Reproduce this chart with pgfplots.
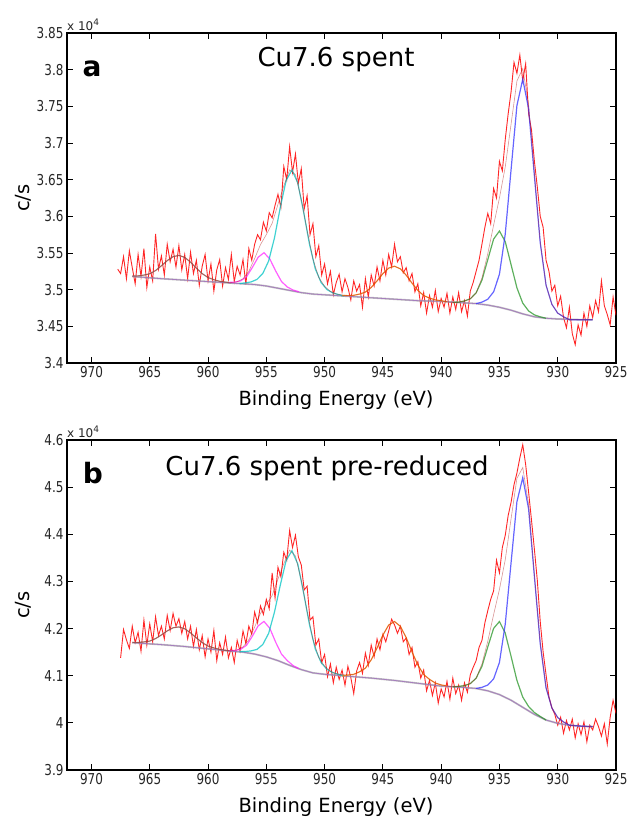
\documentclass[border=0pt]{standalone}
\usepackage{pgfplots}
\pgfplotsset{compat=1.18}
\usepackage{fontspec}
\setmainfont{DejaVu Sans}
\newfontfamily\tickfont[FakeStretch=0.8]{DejaVu Sans}
\definecolor{cred}{RGB}{255,0,0}
\definecolor{cblue}{RGB}{50,50,255}
\definecolor{cgreen}{RGB}{40,150,40}
\definecolor{corange}{RGB}{255,125,0}
\definecolor{ccyan}{RGB}{0,195,195}
\definecolor{cmag}{RGB}{255,40,255}
\definecolor{cbrown}{RGB}{140,105,95}
\definecolor{cgray}{RGB}{150,150,150}
\definecolor{cpurp}{RGB}{160,110,190}
\definecolor{cenv}{RGB}{170,20,20}
\pgfplotsset{
  xpsax/.style={
    scale only axis, width=549pt, height=330pt, anchor=south west,
    x dir=reverse, xmin=925, xmax=972.1,
    xtick={925,930,935,940,945,950,955,960,965,970},
    xticklabels={925,930,935,940,945,950,955,960,965,970},
    tick align=inside, major tick length=6pt,
    axis line style={line width=1.1pt},
    every tick/.style={black, line width=0.9pt},
    /pgf/number format/assume math mode=true,
    tick label style={font=\tickfont\fontsize{15}{15}\selectfont, text=black!85},
    clip=true,
  },
  datal/.style={cred, line width=0.9pt, opacity=0.85},
  comp/.style={line width=1.2pt, opacity=0.75},
}
\begin{document}
\begin{tikzpicture}
\useasboundingbox (0,0) rectangle (630pt,-821pt);
% ---------------- panel a ----------------
\begin{axis}[xpsax, at={(67pt,-363pt)}, ymin=3.4, ymax=3.85,
  ytick={3.4,3.45,3.5,3.55,3.6,3.65,3.7,3.75,3.8,3.85},
  yticklabels={3.4,3.45,3.5,3.55,3.6,3.65,3.7,3.75,3.8,3.85}]
\addplot[datal] coordinates {
(967.75,3.528)(967.5,3.522)(967.25,3.545)(967.0,3.515)(966.75,3.553)(966.5,3.530)(966.25,3.508)(966.0,3.548)
(965.75,3.518)(965.5,3.556)(965.25,3.503)(965.0,3.531)(964.75,3.512)(964.5,3.576)(964.25,3.528)(964.0,3.546)
(963.75,3.520)(963.5,3.562)(963.25,3.538)(963.0,3.555)(962.75,3.531)(962.5,3.560)(962.25,3.527)(962.0,3.548)
(961.75,3.515)(961.5,3.551)(961.25,3.522)(961.0,3.540)(960.75,3.506)(960.5,3.532)(960.25,3.548)(960.0,3.512)
(959.75,3.535)(959.5,3.498)(959.25,3.527)(959.0,3.541)(958.75,3.505)(958.5,3.530)(958.25,3.514)(958.0,3.548)
(957.75,3.511)(957.5,3.532)(957.25,3.520)(957.0,3.541)(956.75,3.507)(956.5,3.556)(956.25,3.540)(956.0,3.562)
(955.75,3.575)(955.5,3.568)(955.25,3.592)(955.0,3.580)(954.75,3.605)(954.5,3.598)(954.25,3.615)(954.0,3.630)
(953.75,3.612)(953.5,3.668)(953.25,3.650)(953.0,3.695)(952.75,3.660)(952.5,3.685)(952.25,3.645)(952.0,3.665)
(951.75,3.610)(951.5,3.628)(951.25,3.575)(951.0,3.590)(950.75,3.545)(950.5,3.560)(950.25,3.520)(950.0,3.535)
(949.75,3.508)(949.5,3.525)(949.25,3.493)(949.0,3.510)(948.75,3.521)(948.5,3.497)(948.25,3.515)(948.0,3.503)
(947.75,3.486)(947.5,3.512)(947.25,3.498)(947.0,3.507)(946.75,3.476)(946.5,3.515)(946.25,3.490)(946.0,3.520)
(945.75,3.505)(945.5,3.531)(945.25,3.512)(945.0,3.540)(944.75,3.520)(944.5,3.548)(944.25,3.531)(944.0,3.562)
(943.75,3.538)(943.5,3.545)(943.25,3.523)(943.0,3.530)(942.75,3.512)(942.5,3.522)(942.25,3.497)(942.0,3.508)
(941.75,3.478)(941.5,3.496)(941.25,3.468)(941.0,3.492)(940.75,3.476)(940.5,3.499)(940.25,3.470)(940.0,3.488)
(939.75,3.476)(939.5,3.495)(939.25,3.468)(939.0,3.490)(938.75,3.473)(938.5,3.496)(938.25,3.470)(938.0,3.485)
(937.75,3.464)(937.5,3.498)(937.25,3.510)(937.0,3.525)(936.75,3.540)(936.5,3.562)(936.25,3.585)(936.0,3.604)
(935.75,3.590)(935.5,3.638)(935.25,3.625)(935.0,3.675)(934.75,3.662)(934.5,3.705)(934.25,3.740)(934.0,3.770)
(933.75,3.810)(933.5,3.795)(933.25,3.820)(933.0,3.785)(932.75,3.808)(932.5,3.740)(932.25,3.718)(932.0,3.675)
(931.75,3.640)(931.5,3.600)(931.25,3.585)(931.0,3.540)(930.75,3.525)(930.5,3.498)(930.25,3.506)(930.0,3.478)
(929.75,3.491)(929.5,3.462)(929.25,3.448)(929.0,3.476)(928.75,3.440)(928.5,3.425)(928.25,3.452)(928.0,3.438)
(927.75,3.468)(927.5,3.450)(927.25,3.478)(927.0,3.462)(926.75,3.485)(926.5,3.470)(926.25,3.512)(926.0,3.478)
(925.75,3.466)(925.5,3.452)(925.25,3.490)(925.0,3.465)
};
% background
\addplot[comp, cgray, line width=1.8pt, opacity=0.6] coordinates {
(966.5,3.518)(964,3.515)(962,3.513)(960,3.511)(958,3.509)(957,3.508)(956,3.507)(955,3.505)(954,3.502)(953,3.499)
(952,3.496)(951,3.494)(950,3.493)(948,3.491)(946,3.489)(944,3.487)(942,3.485)(940,3.484)(938,3.482)(937,3.481)
(936,3.479)(935.5,3.4775)(935,3.476)(934.5,3.474)(934,3.472)(933.5,3.4695)(933,3.467)(932.5,3.465)(932,3.463)
(931.5,3.462)(931,3.461)(930,3.460)(928,3.459)(927,3.459)
};
\addplot[comp, cpurp, line width=0.8pt, opacity=0.8] coordinates {
(966.5,3.518)(964,3.515)(962,3.513)(960,3.511)(958,3.509)(957,3.508)(956,3.507)(955,3.505)(954,3.502)(953,3.499)
(952,3.496)(951,3.494)(950,3.493)(948,3.491)(946,3.489)(944,3.487)(942,3.485)(940,3.484)(938,3.482)(937,3.481)
(936,3.479)(935.5,3.4775)(935,3.476)(934.5,3.474)(934,3.472)(933.5,3.4695)(933,3.467)(932.5,3.465)(932,3.463)
(931.5,3.462)(931,3.461)(930,3.460)(928,3.459)(927,3.459)
};
% brown 962.5
\addplot[comp, cbrown] coordinates {
(966.5,3.5187)(966,3.5188)(965.5,3.5199)(965,3.5217)(964.5,3.5261)(964,3.5326)(963.5,3.5396)(963,3.5450)
(962.5,3.5468)(962,3.5440)(961.5,3.5375)(961,3.5294)(960.5,3.5219)(960,3.5165)(959.5,3.5136)(959,3.5114)
(958.5,3.5103)(958,3.5091)
};
% magenta 955.2
\addplot[comp, cmag] coordinates {
(958.2,3.5099)(957.7,3.5103)(957.2,3.5120)(956.7,3.5176)(956.2,3.5302)(955.7,3.5442)(955.2,3.5504)
(954.7,3.5419)(954.2,3.5256)(953.7,3.5112)(953.2,3.5036)(952.7,3.4995)(952.2,3.4971)
};
% cyan 952.8
\addplot[comp, ccyan] coordinates {
(957.3,3.5083)(956.8,3.5093)(956.3,3.5106)(955.8,3.5140)(955.3,3.5221)(954.8,3.5391)(954.3,3.5706)(953.8,3.6122)
(953.3,3.6489)(952.8,3.6634)(952.3,3.6454)(951.8,3.6060)(951.3,3.5623)(950.8,3.5285)(950.3,3.5098)(949.8,3.5002)
(949.3,3.4956)(948.8,3.4933)(948.3,3.4913)
};
% orange 944
\addplot[comp, corange] coordinates {
(948.5,3.492)(948,3.4919)(947.5,3.4923)(947,3.494)(946.5,3.4967)(946,3.503)(945.5,3.512)(945,3.5218)
(944.5,3.5294)(944,3.532)(943.5,3.5284)(943,3.5198)(942.5,3.5089)(942,3.499)(941.5,3.492)(941,3.4885)
(940.5,3.4861)(940,3.4849)(939.5,3.4835)
};
% green 935
\addplot[comp, cgreen] coordinates {
(939,3.4825)(938.5,3.483)(938,3.4846)(937.5,3.4875)(937,3.4956)(936.5,3.513)(936,3.541)(935.5,3.569)
(935,3.580)(934.5,3.5655)(934,3.534)(933.5,3.5025)(933,3.4816)(932.5,3.471)(932,3.4656)(931.5,3.463)(931,3.461)
};
% blue 933
\addplot[comp, cblue] coordinates {
(937,3.481)(936.5,3.483)(936,3.487)(935.5,3.497)(935,3.521)(934.5,3.576)(934,3.664)(933.5,3.751)(933,3.787)
(932.5,3.747)(932,3.655)(931.5,3.564)(931,3.506)(930.5,3.480)(930,3.468)(929.5,3.463)(929,3.459)(928,3.459)(927,3.459)
};
% envelope
\addplot[cenv, line width=0.6pt, opacity=0.45] coordinates {
(966.5,3.5187)(966,3.5188)(965.5,3.5199)(965,3.5217)(964.5,3.5261)(964,3.5326)(963.5,3.5396)(963,3.5450)
(962.5,3.5468)(962,3.5440)(961.5,3.5375)(961,3.5294)(960.5,3.5219)(960,3.5165)(959.5,3.5136)(959,3.5114)
(958.5,3.5103)(958,3.5098)(957.5,3.5108)(957,3.5149)(956.5,3.525)(956,3.5425)(955.5,3.5615)(955,3.5751)
(954.5,3.5904)(954,3.6163)(953.5,3.6416)(953,3.6634)(952.5,3.6568)(952,3.6233)(951.5,3.5808)(951,3.5419)
(950.5,3.5166)(950,3.5046)(949.5,3.4975)(949,3.4941)(948.5,3.4927)(948,3.4919)(947.5,3.4923)(947,3.494)
(946.5,3.4967)(946,3.503)(945.5,3.512)(945,3.5218)(944.5,3.5294)(944,3.532)(943.5,3.5284)(943,3.5198)
(942.5,3.5089)(942,3.499)(941.5,3.492)(941,3.4885)(940.5,3.4861)(940,3.4849)(939.5,3.4835)(939,3.4825)
(938.5,3.483)(938,3.4846)(937.5,3.4875)(937,3.4956)(936.5,3.516)(936,3.549)(935.5,3.588)(935,3.625)
(934.5,3.6675)(934,3.726)(933.5,3.7845)(933,3.8016)(932.5,3.753)(932,3.6576)(931.5,3.565)(931,3.506)
(930.5,3.480)(930,3.468)(929.5,3.463)(929,3.459)(928,3.459)(927,3.459)
};
\end{axis}
% ---------------- panel b ----------------
\begin{axis}[xpsax, at={(67pt,-770pt)}, ymin=3.9, ymax=4.6,
  ytick={3.9,4,4.1,4.2,4.3,4.4,4.5,4.6},
  yticklabels={3.9,4,4.1,4.2,4.3,4.4,4.5,4.6}]
\addplot[datal] coordinates {
(967.5,4.138)(967.25,4.198)(967.0,4.176)(966.75,4.158)(966.5,4.205)(966.25,4.170)(966.0,4.192)(965.75,4.152)
(965.5,4.218)(965.25,4.165)(965.0,4.210)(964.75,4.172)(964.5,4.225)(964.25,4.185)(964.0,4.205)(963.75,4.178)
(963.5,4.228)(963.25,4.196)(963.0,4.232)(962.75,4.205)(962.5,4.221)(962.25,4.190)(962.0,4.215)(961.75,4.178)
(961.5,4.205)(961.25,4.162)(961.0,4.198)(960.75,4.155)(960.5,4.185)(960.25,4.140)(960.0,4.178)(959.75,4.150)
(959.5,4.196)(959.25,4.132)(959.0,4.170)(958.75,4.145)(958.5,4.182)(958.25,4.138)(958.0,4.160)(957.75,4.128)
(957.5,4.175)(957.25,4.152)(957.0,4.195)(956.75,4.168)(956.5,4.205)(956.25,4.188)(956.0,4.235)(955.75,4.212)
(955.5,4.248)(955.25,4.230)(955.0,4.262)(954.75,4.242)(954.5,4.318)(954.25,4.265)(954.0,4.330)(953.75,4.310)
(953.5,4.362)(953.25,4.345)(953.0,4.408)(952.75,4.372)(952.5,4.398)(952.25,4.352)(952.0,4.335)(951.75,4.282)
(951.5,4.290)(951.25,4.218)(951.0,4.225)(950.75,4.165)(950.5,4.178)(950.25,4.128)(950.0,4.145)(949.75,4.098)
(949.5,4.125)(949.25,4.085)(949.0,4.118)(948.75,4.092)(948.5,4.112)(948.25,4.080)(948.0,4.120)(947.75,4.096)
(947.5,4.062)(947.25,4.110)(947.0,4.128)(946.75,4.105)(946.5,4.148)(946.25,4.122)(946.0,4.165)(945.75,4.140)
(945.5,4.178)(945.25,4.155)(945.0,4.188)(944.75,4.172)(944.5,4.195)(944.25,4.220)(944.0,4.208)(943.75,4.190)
(943.5,4.205)(943.25,4.172)(943.0,4.180)(942.75,4.145)(942.5,4.160)(942.25,4.118)(942.0,4.130)(941.75,4.095)
(941.5,4.112)(941.25,4.068)(941.0,4.090)(940.75,4.058)(940.5,4.085)(940.25,4.042)(940.0,4.072)(939.75,4.055)
(939.5,4.088)(939.25,4.050)(939.0,4.095)(938.75,4.062)(938.5,4.080)(938.25,4.048)(938.0,4.085)(937.75,4.065)
(937.5,4.102)(937.25,4.118)(937.0,4.132)(936.75,4.160)(936.5,4.175)(936.25,4.212)(936.0,4.238)(935.75,4.262)
(935.5,4.280)(935.25,4.345)(935.0,4.318)(934.75,4.372)(934.5,4.398)(934.25,4.440)(934.0,4.468)(933.75,4.505)
(933.5,4.530)(933.25,4.562)(933.0,4.590)(932.75,4.548)(932.5,4.490)(932.25,4.430)(932.0,4.368)(931.75,4.302)
(931.5,4.215)(931.25,4.150)(931.0,4.102)(930.75,4.055)(930.5,4.032)(930.25,4.018)(930.0,3.995)(929.75,4.012)
(929.5,3.978)(929.25,4.005)(929.0,3.985)(928.75,4.008)(928.5,3.968)(928.25,3.998)(928.0,3.975)(927.75,4.002)
(927.5,3.960)(927.25,3.995)(927.0,3.985)(926.75,4.008)(926.5,3.992)(926.25,3.972)(926.0,3.998)(925.75,3.955)
(925.5,4.012)(925.25,4.048)(925.0,4.020)
};
\addplot[comp, cgray, line width=1.8pt, opacity=0.6] coordinates {
(966.5,4.170)(964,4.166)(962,4.162)(960,4.157)(958,4.152)(957,4.150)(956,4.146)(955,4.140)(954,4.132)(953,4.122)
(952,4.113)(951,4.106)(950,4.103)(948,4.099)(946,4.095)(944,4.090)(942,4.084)(940,4.078)(938,4.075)(937,4.073)
(936,4.068)(935,4.060)(934,4.048)(933,4.033)(932,4.018)(931,4.006)(930,3.999)(929,3.995)(928,3.993)(927,3.992)
};
\addplot[comp, cpurp, line width=0.8pt, opacity=0.8] coordinates {
(966.5,4.170)(964,4.166)(962,4.162)(960,4.157)(958,4.152)(957,4.150)(956,4.146)(955,4.140)(954,4.132)(953,4.122)
(952,4.113)(951,4.106)(950,4.103)(948,4.099)(946,4.095)(944,4.090)(942,4.084)(940,4.078)(938,4.075)(937,4.073)
(936,4.068)(935,4.060)(934,4.048)(933,4.033)(932,4.018)(931,4.006)(930,3.999)(929,3.995)(928,3.993)(927,3.992)
};
\addplot[comp, cbrown] coordinates {
(966.5,4.1708)(966,4.1707)(965.5,4.1717)(965,4.1735)(964.5,4.1788)(964,4.1865)(963.5,4.1951)(963,4.2017)
(962.5,4.2035)(962,4.1996)(961.5,4.1909)(961,4.1802)(960.5,4.1703)(960,4.1629)(959.5,4.159)(959,4.1558)
(958.5,4.1539)(958,4.152)
};
\addplot[comp, cmag] coordinates {
(958.2,4.1531)(957.7,4.1536)(957.2,4.1561)(956.7,4.1645)(956.2,4.1837)(955.7,4.2058)(955.2,4.2152)
(954.7,4.2006)(954.2,4.1713)(953.7,4.1459)(953.2,4.1321)(952.7,4.1215)(952.2,4.1149)
};
\addplot[comp, ccyan] coordinates {
(957.3,4.1512)(956.8,4.1514)(956.3,4.1527)(955.8,4.1558)(955.3,4.1663)(954.8,4.1899)(954.3,4.2349)(953.8,4.2922)
(953.3,4.3445)(952.8,4.3652)(952.3,4.337)(951.8,4.2758)(951.3,4.2086)(950.8,4.1569)(950.3,4.128)(949.8,4.1136)
(949.3,4.1065)(948.8,4.1028)(948.3,4.0996)
};
\addplot[comp, corange] coordinates {
(948.5,4.0993)(948,4.1015)(947.5,4.103)(947,4.1083)(946.5,4.116)(946,4.1338)(945.5,4.1588)(945,4.1863)
(944.5,4.2076)(944,4.215)(943.5,4.2048)(943,4.1808)(942.5,4.1505)(942,4.1228)(941.5,4.1025)(941,4.0923)
(940.5,4.0845)(940,4.0805)(939.5,4.0783)
};
\addplot[comp, cgreen] coordinates {
(939,4.0765)(938.5,4.0774)(938,4.0789)(937.5,4.0833)(937,4.0947)(936.5,4.1201)(936,4.161)(935.5,4.2004)
(935,4.215)(934.5,4.1904)(934,4.141)(933.5,4.0901)(933,4.0547)(932.5,4.0348)(932,4.0219)(931.5,4.0136)(931,4.006)
};
\addplot[comp, cblue] coordinates {
(937,4.073)(936.5,4.0754)(936,4.0802)(935.5,4.0932)(935,4.1282)(934.5,4.2098)(934,4.3402)(933.5,4.4691)(933,4.520)
(932.5,4.4541)(932,4.3102)(931.5,4.1678)(931,4.0742)(930.5,4.0317)(930,4.0112)(929.5,4.0019)(929,3.995)(928,3.993)(927,3.992)
};
\addplot[cenv, line width=0.6pt, opacity=0.45] coordinates {
(966.5,4.1708)(966,4.1707)(965.5,4.1717)(965,4.1735)(964.5,4.1788)(964,4.1865)(963.5,4.1951)(963,4.2017)
(962.5,4.2035)(962,4.1996)(961.5,4.1909)(961,4.1802)(960.5,4.1703)(960,4.1629)(959.5,4.159)(959,4.1558)
(958.5,4.1539)(958,4.1531)(957.5,4.1547)(957,4.1611)(956.5,4.1763)(956,4.2034)(955.5,4.2322)(955,4.251)
(954.5,4.2702)(954,4.305)(953.5,4.3377)(953,4.3665)(952.5,4.3542)(952,4.3021)(951.5,4.2369)(951,4.1771)
(950.5,4.1388)(950,4.1202)(949.5,4.1094)(949,4.1042)(948.5,4.1023)(948,4.1015)(947.5,4.103)(947,4.1083)
(946.5,4.116)(946,4.1338)(945.5,4.1588)(945,4.1863)(944.5,4.2076)(944,4.215)(943.5,4.2048)(943,4.1808)
(942.5,4.1505)(942,4.1228)(941.5,4.1025)(941,4.0923)(940.5,4.0845)(940,4.0805)(939.5,4.0783)(939,4.0765)
(938.5,4.0774)(938,4.0789)(937.5,4.0833)(937,4.0947)(936.5,4.125)(936,4.1732)(935.5,4.2296)(935,4.2832)
(934.5,4.3462)(934,4.4332)(933.5,4.5187)(933,4.5417)(932.5,4.4634)(932,4.3141)(931.5,4.1694)(931,4.0742)
(930.5,4.0317)(930,4.0112)(929.5,4.0019)(929,3.995)(928,3.993)(927,3.992)
};
\end{axis}
% ---------------- labels ----------------
\node[anchor=south west, inner sep=0pt, font=\fontsize{12}{12}\selectfont, text=black!85] at (67pt,-31pt) {x 10\raisebox{0.45em}{\fontsize{9}{9}\selectfont 4}};
\node[anchor=south west, inner sep=0pt, font=\fontsize{12}{12}\selectfont, text=black!85] at (67pt,-438pt) {x 10\raisebox{0.45em}{\fontsize{9}{9}\selectfont 4}};
\node[anchor=base, inner sep=0pt, font=\fontsize{26}{26}\selectfont] at (336pt,-67pt) {Cu7.6 spent};
\node[anchor=base, inner sep=0pt, font=\fontsize{26}{26}\selectfont] at (327pt,-475pt) {Cu7.6 spent pre-reduced};
\node[anchor=base, inner sep=0pt, font=\bfseries\fontsize{28}{28}\selectfont] at (92pt,-77pt) {a};
\node[anchor=base, inner sep=0pt, font=\bfseries\fontsize{28}{28}\selectfont] at (93pt,-483pt) {b};
\node[anchor=base, inner sep=0pt, font=\fontsize{19.5}{19.5}\selectfont] at (336pt,-405pt) {Binding Energy (eV)};
\node[anchor=base, inner sep=0pt, font=\fontsize{19.5}{19.5}\selectfont] at (336pt,-812pt) {Binding Energy (eV)};
\node[rotate=90, anchor=base, inner sep=0pt, font=\fontsize{19.5}{19.5}\selectfont] at (29pt,-198pt) {c/s};
\node[rotate=90, anchor=base, inner sep=0pt, font=\fontsize{19.5}{19.5}\selectfont] at (29pt,-605pt) {c/s};
\end{tikzpicture}
\end{document}
